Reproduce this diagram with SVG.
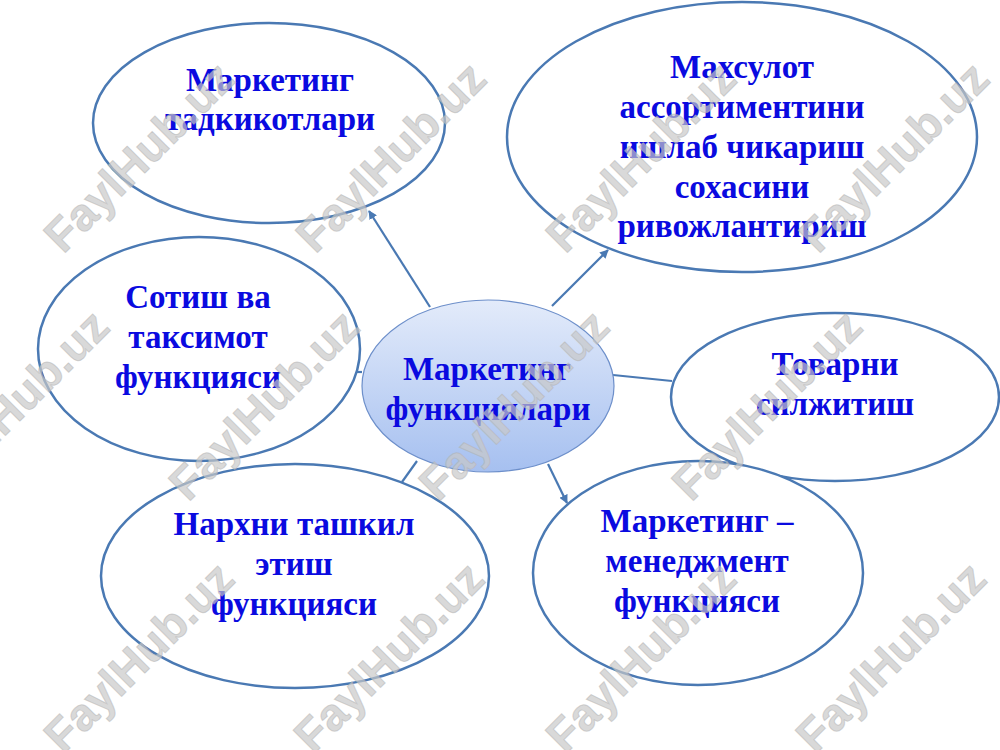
<svg xmlns="http://www.w3.org/2000/svg" width="1000" height="750" viewBox="0 0 1000 750">
<style>
.node{fill:#ffffff;stroke:#4a79b3;stroke-width:2.5}
.lbl{font-family:"Liberation Serif","Times New Roman",serif;font-weight:bold;font-size:33px;fill:#0a0ae0;text-anchor:middle}
.conn{stroke:#4a79b3;stroke-width:2.2;fill:none}
.wm{font-family:"Liberation Sans",Arial,sans-serif;font-weight:bold;font-size:46px;fill:#c8c8c8;fill-opacity:0.7;stroke:#b0b0b0;stroke-opacity:0.5;stroke-width:1;text-anchor:middle}
</style>
<defs>
<marker id="arr" viewBox="0 0 10 10" refX="9" refY="5" markerWidth="4" markerHeight="4" orient="auto" markerUnits="strokeWidth">
<path d="M0,0 L10,5 L0,10 z" fill="#4a79b3"/>
</marker>
<linearGradient id="cg" x1="0" y1="0" x2="0" y2="1">
<stop offset="0" stop-color="#e3ebfa"/>
<stop offset="1" stop-color="#a6c0f0"/>
</linearGradient>
</defs>
<rect width="1000" height="750" fill="#ffffff"/>
<g id="connectors">
<line class="conn" x1="430" y1="307" x2="369" y2="211" marker-end="url(#arr)"/>
<line class="conn" x1="552" y1="306" x2="608" y2="250" marker-end="url(#arr)"/>
<line class="conn" x1="613" y1="375" x2="672" y2="381"/>
<line class="conn" x1="362" y1="372" x2="356" y2="372"/>
<line class="conn" x1="417" y1="461" x2="402" y2="482"/>
<line class="conn" x1="548" y1="464" x2="567" y2="503" marker-end="url(#arr)"/>
</g>
<g id="n-research">
<ellipse class="node" cx="269" cy="123" rx="176" ry="100"/>
<text class="lbl" x="270" y="91">Маркетинг</text>
<text class="lbl" x="270" y="130">тадкикотлари</text>
</g>
<g id="n-assortment">
<ellipse class="node" cx="742" cy="137" rx="235" ry="135"/>
<text class="lbl" x="742" y="78">Махсулот</text>
<text class="lbl" x="742" y="118">ассортиментини</text>
<text class="lbl" x="742" y="158">ишлаб чикариш</text>
<text class="lbl" x="742" y="198">сохасини</text>
<text class="lbl" x="742" y="237">ривожлантириш</text>
</g>
<g id="n-sales">
<ellipse class="node" cx="199" cy="349" rx="161" ry="112"/>
<text class="lbl" x="198" y="308">Сотиш ва</text>
<text class="lbl" x="198" y="348">таксимот</text>
<text class="lbl" x="198" y="388">функцияси</text>
</g>
<g id="n-promotion">
<ellipse class="node" cx="835" cy="397" rx="164" ry="84"/>
<text class="lbl" x="835" y="375">Товарни</text>
<text class="lbl" x="835" y="415">силжитиш</text>
</g>
<g id="n-pricing">
<ellipse class="node" cx="295" cy="576" rx="194" ry="112"/>
<text class="lbl" x="294" y="535">Нархни ташкил</text>
<text class="lbl" x="294" y="575">этиш</text>
<text class="lbl" x="294" y="615">функцияси</text>
</g>
<g id="n-management">
<ellipse class="node" cx="698" cy="573" rx="165" ry="112"/>
<text class="lbl" x="697" y="532">Маркетинг –</text>
<text class="lbl" x="697" y="572">менеджмент</text>
<text class="lbl" x="697" y="612">функцияси</text>
</g>
<g id="n-center">
<ellipse cx="488" cy="386" rx="126" ry="86" fill="url(#cg)" stroke="#6d8fca" stroke-width="1.2"/>
<text class="lbl" x="487" y="380">Маркетинг</text>
<text class="lbl" x="488" y="420">функциялари</text>
</g>
<g id="watermarks">
<text class="wm" transform="translate(150,168) rotate(-45)">FaylHub.uz</text>
<text class="wm" transform="translate(402,168) rotate(-45)">FaylHub.uz</text>
<text class="wm" transform="translate(652,168) rotate(-45)">FaylHub.uz</text>
<text class="wm" transform="translate(905,168) rotate(-45)">FaylHub.uz</text>
<text class="wm" transform="translate(25,416) rotate(-45)">FaylHub.uz</text>
<text class="wm" transform="translate(275,416) rotate(-45)">FaylHub.uz</text>
<text class="wm" transform="translate(525,416) rotate(-45)">FaylHub.uz</text>
<text class="wm" transform="translate(778,416) rotate(-45)">FaylHub.uz</text>
<text class="wm" transform="translate(150,668) rotate(-45)">FaylHub.uz</text>
<text class="wm" transform="translate(400,668) rotate(-45)">FaylHub.uz</text>
<text class="wm" transform="translate(652,668) rotate(-45)">FaylHub.uz</text>
<text class="wm" transform="translate(902,668) rotate(-45)">FaylHub.uz</text>
</g>
</svg>
